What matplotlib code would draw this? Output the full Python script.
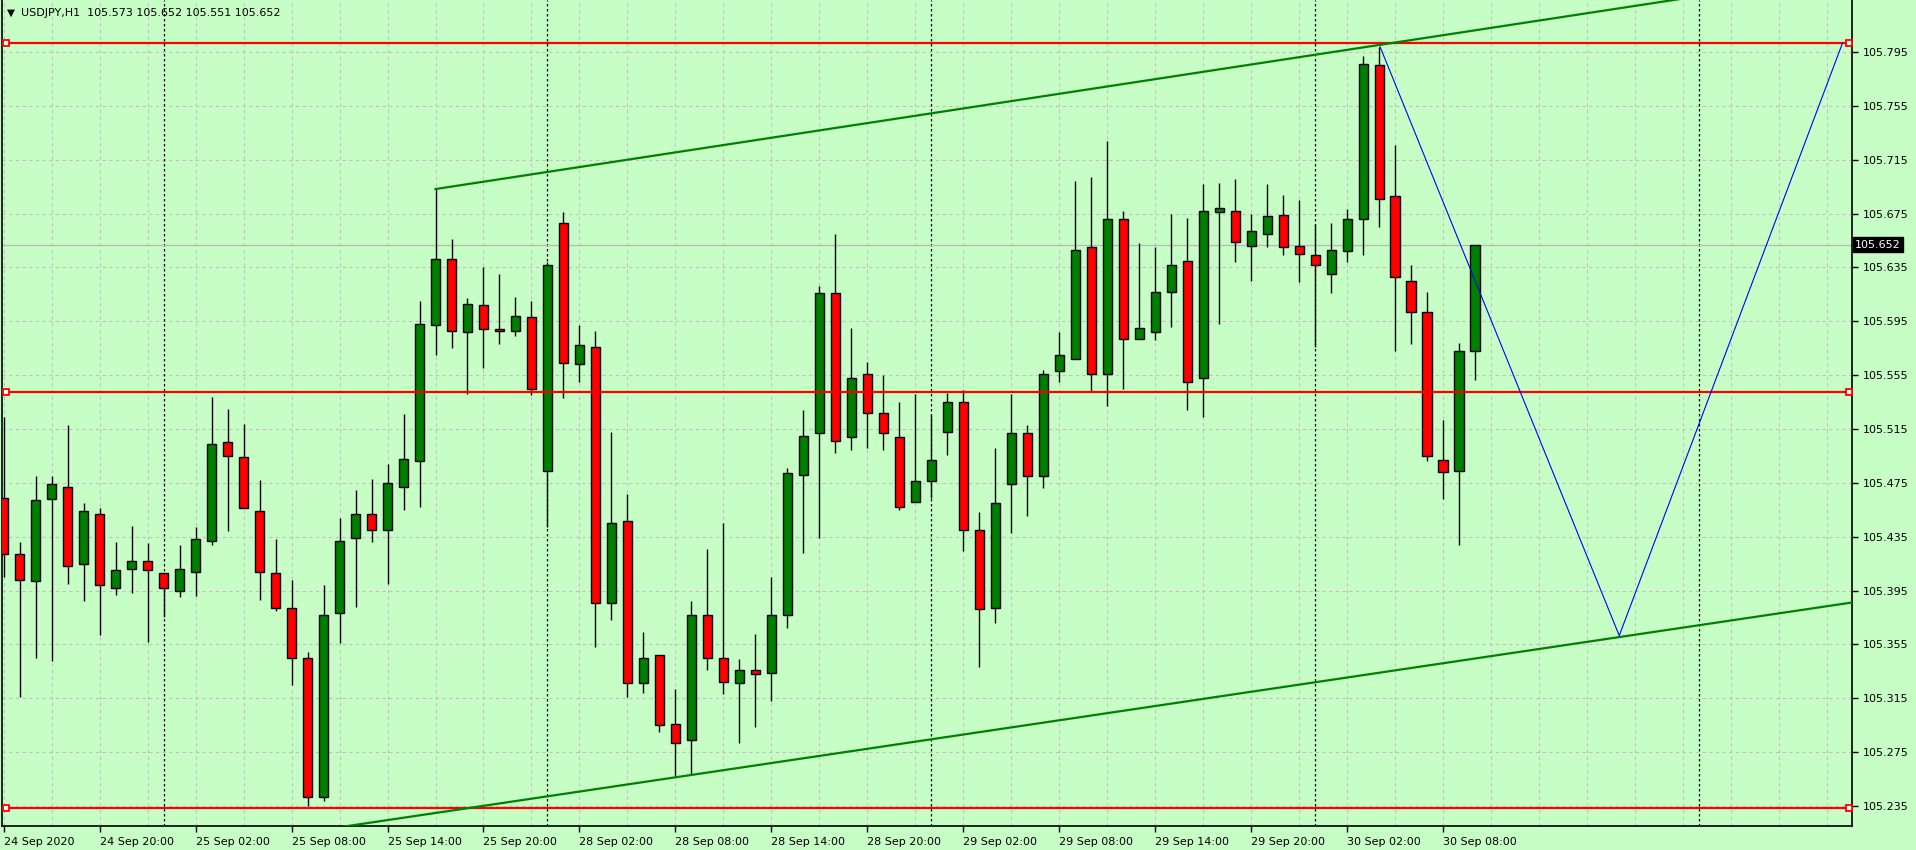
import matplotlib
matplotlib.use("Agg")
import matplotlib.pyplot as plt
import matplotlib.transforms as mtransforms
import numpy as np

# USDJPY H1 candles, 24 Sep 14:00 .. 30 Sep 10:00 (weekend bars skipped)
opens = [105.464, 105.422, 105.402, 105.463, 105.472, 105.415, 105.452, 105.397, 105.411, 105.417,
         105.408, 105.395, 105.409, 105.432, 105.505, 105.494, 105.454, 105.408, 105.382, 105.345,
         105.242, 105.378, 105.434, 105.452, 105.440, 105.472, 105.491, 105.592, 105.641, 105.587,
         105.607, 105.589, 105.588, 105.598, 105.484, 105.668, 105.563, 105.576, 105.386, 105.447,
         105.326, 105.347, 105.296, 105.284, 105.377, 105.345, 105.326, 105.336, 105.334, 105.377,
         105.481, 105.512, 105.616, 105.509, 105.556, 105.527, 105.509, 105.461, 105.476, 105.513,
         105.535, 105.440, 105.382, 105.474, 105.512, 105.480, 105.558, 105.567, 105.650, 105.556,
         105.671, 105.582, 105.587, 105.617, 105.640, 105.553, 105.676, 105.677, 105.651, 105.660,
         105.674, 105.651, 105.644, 105.630, 105.647, 105.671, 105.785, 105.688, 105.625, 105.602,
         105.492, 105.484, 105.573]
highs = [105.524, 105.431, 105.480, 105.480, 105.518, 105.460, 105.456, 105.431, 105.443, 105.430,
         105.408, 105.429, 105.442, 105.539, 105.530, 105.519, 105.477, 105.433, 105.403, 105.349,
         105.399, 105.449, 105.470, 105.478, 105.489, 105.526, 105.610, 105.693, 105.656, 105.612,
         105.635, 105.630, 105.613, 105.610, 105.639, 105.676, 105.592, 105.588, 105.513, 105.467,
         105.364, 105.347, 105.322, 105.387, 105.426, 105.445, 105.344, 105.363, 105.405, 105.486,
         105.529, 105.621, 105.660, 105.590, 105.565, 105.555, 105.535, 105.541, 105.525, 105.542,
         105.544, 105.453, 105.501, 105.541, 105.518, 105.559, 105.587, 105.699, 105.702, 105.729,
         105.677, 105.653, 105.650, 105.675, 105.672, 105.697, 105.698, 105.701, 105.675, 105.697,
         105.689, 105.685, 105.667, 105.668, 105.678, 105.792, 105.799, 105.726, 105.637, 105.617,
         105.522, 105.579, 105.652]
lows = [105.405, 105.316, 105.345, 105.343, 105.400, 105.387, 105.362, 105.392, 105.393, 105.357,
        105.375, 105.390, 105.391, 105.429, 105.439, 105.456, 105.388, 105.380, 105.325, 105.235,
        105.239, 105.356, 105.383, 105.431, 105.400, 105.455, 105.457, 105.570, 105.575, 105.541,
        105.560, 105.578, 105.584, 105.540, 105.442, 105.538, 105.550, 105.353, 105.373, 105.316,
        105.319, 105.290, 105.257, 105.259, 105.336, 105.318, 105.282, 105.294, 105.313, 105.367,
        105.423, 105.434, 105.497, 105.499, 105.501, 105.499, 105.455, 105.461, 105.464, 105.496,
        105.424, 105.338, 105.371, 105.438, 105.450, 105.471, 105.550, 105.567, 105.543, 105.532,
        105.545, 105.582, 105.581, 105.591, 105.529, 105.524, 105.593, 105.639, 105.625, 105.650,
        105.644, 105.624, 105.576, 105.616, 105.639, 105.644, 105.665, 105.573, 105.578, 105.491,
        105.463, 105.429, 105.551]
closes = [105.422, 105.403, 105.462, 105.474, 105.413, 105.454, 105.399, 105.410, 105.417, 105.410,
          105.397, 105.411, 105.433, 105.504, 105.495, 105.456, 105.409, 105.382, 105.345, 105.242,
          105.377, 105.432, 105.452, 105.440, 105.475, 105.493, 105.593, 105.641, 105.588, 105.608,
          105.589, 105.588, 105.599, 105.545, 105.637, 105.564, 105.577, 105.386, 105.445, 105.326,
          105.345, 105.295, 105.282, 105.377, 105.345, 105.327, 105.336, 105.333, 105.377, 105.482,
          105.510, 105.616, 105.506, 105.553, 105.527, 105.512, 105.457, 105.476, 105.492, 105.535,
          105.440, 105.381, 105.460, 105.512, 105.480, 105.556, 105.570, 105.648, 105.556, 105.671,
          105.582, 105.590, 105.617, 105.637, 105.550, 105.677, 105.679, 105.654, 105.662, 105.673,
          105.650, 105.645, 105.637, 105.648, 105.671, 105.786, 105.686, 105.628, 105.602, 105.495,
          105.483, 105.573, 105.652]

time_tick_pos = [0, 6, 12, 18, 24, 30, 36, 42, 48, 54, 60, 66, 72, 78, 84, 90]
time_tick_labels = ["24 Sep 2020", "24 Sep 20:00", "25 Sep 02:00", "25 Sep 08:00",
                    "25 Sep 14:00", "25 Sep 20:00", "28 Sep 02:00", "28 Sep 08:00",
                    "28 Sep 14:00", "28 Sep 20:00", "29 Sep 02:00", "29 Sep 08:00",
                    "29 Sep 14:00", "29 Sep 20:00", "30 Sep 02:00", "30 Sep 08:00"]
day_breaks = [10, 34, 58, 82, 106]
price_ticks = [105.235, 105.275, 105.315, 105.355, 105.395, 105.435, 105.475,
               105.515, 105.555, 105.595, 105.635, 105.675, 105.715, 105.755, 105.795]

hlines = [105.8015, 105.5425, 105.2335]
upper_channel_x = [27, 120]
upper_channel_y = [105.6932, 105.8619]
lower_channel_x = [15, 116]
lower_channel_y = [105.2086, 105.3869]
zigzag_x = [86.05, 101, 114.95]
zigzag_y = [105.7988, 105.3615, 105.8014]

last_price = 105.652
header = "USDJPY,H1  105.573 105.652 105.551 105.652"

BG = "#c6fec6"
GRID = "#c6bcc6"

fig = plt.figure(figsize=(19.16, 8.5), dpi=100, facecolor=BG)
ax = fig.add_axes([2 / 1916, 1 - 826 / 850, 1850 / 1916, 826 / 850], facecolor=BG)

x = np.arange(len(opens))
o = np.array(opens)
c = np.array(closes)
up = c >= o

# grid
for gx in range(0, 117, 3):
    ax.axvline(gx, color=GRID, lw=0.8, ls=(0, (3, 3)), zorder=0)
for gy in price_ticks:
    ax.axhline(gy, color=GRID, lw=0.8, ls=(0, (3, 3)), zorder=0)
for d in day_breaks:
    ax.axvline(d, color="black", lw=0.9, ls=(0, (2, 2)), zorder=1)

# bid line
ax.axhline(last_price, color="#b8b8b8", lw=0.9, zorder=1)

# candles
ax.vlines(x, lows, highs, color="black", lw=1.0, zorder=3)
body_h = np.maximum(np.abs(c - o), 0.0004)
ax.bar(x, body_h, bottom=np.minimum(o, c), width=0.6,
       color=np.where(up, "#008000", "#ff0000"), edgecolor="black", lw=1.0, zorder=4)

# horizontal levels
for h in hlines:
    ax.axhline(h, color="#ff0000", lw=1.6, zorder=5)
    ax.plot([0.15, 115.35], [h, h], ls="none", marker="s", ms=4.5, mfc="white",
            mec="#ff0000", mew=1.3, zorder=6, clip_on=False)

# channel and projection
ax.plot(upper_channel_x, upper_channel_y, color="#008000", lw=1.6, zorder=5)
ax.vlines(27, highs[27], upper_channel_y[0], color="black", lw=1.0, zorder=3)
ax.plot(lower_channel_x, lower_channel_y, color="#008000", lw=1.6, zorder=5)
ax.plot(zigzag_x, zigzag_y, color="#0000ff", lw=0.8, zorder=6)

ax.set_xlim(-0.1, 115.55)
ax.set_ylim(105.2201, 105.8336)

ax.yaxis.tick_right()
ax.set_yticks(price_ticks)
ax.set_yticklabels([f"{p:.3f}" for p in price_ticks])
ax.set_xticks(time_tick_pos)
ax.set_xticklabels(time_tick_labels, ha="left")
ax.tick_params(axis="both", labelsize=8, length=4, width=1, color="black",
               labelcolor="black", direction="out")
ax.tick_params(axis="y", pad=4)
ax.tick_params(axis="x", pad=4)

for s in ["left", "right", "bottom"]:
    ax.spines[s].set_color("black")
    ax.spines[s].set_linewidth(1.2)
ax.spines["top"].set_visible(False)

# last price tag
trans = mtransforms.blended_transform_factory(ax.transAxes, ax.transData)
ax.text(1.0015, last_price, "105.652", transform=trans, fontsize=8, color="white",
        va="center", ha="left",
        bbox=dict(boxstyle="square,pad=0.2", fc="black", ec="black"), zorder=10)

# header
fig.text(7 / 1916, 1 - 13 / 850, "\u25bc", fontsize=7.5, va="center", ha="left", color="black")
fig.text(21 / 1916, 1 - 13 / 850, header, fontsize=8, va="center", ha="left", color="black")

fig.savefig("out.png", dpi=100, facecolor=BG)
